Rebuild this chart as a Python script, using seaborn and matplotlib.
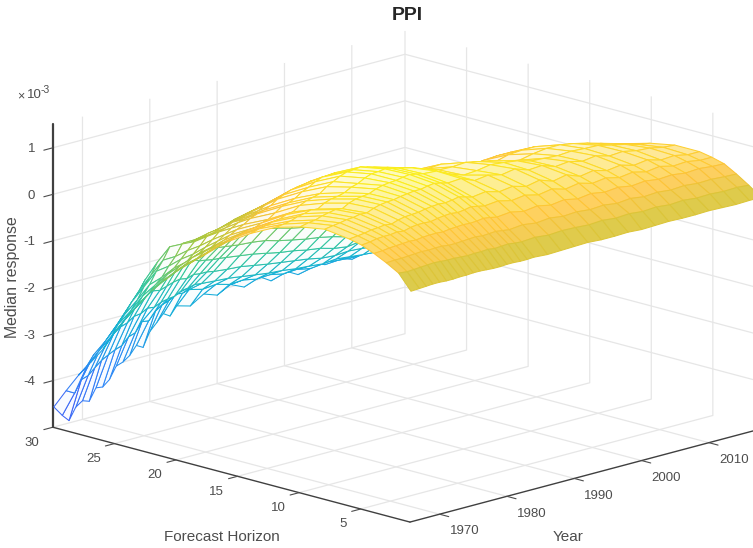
import matplotlib
matplotlib.use("Agg")
import matplotlib.pyplot as plt
import numpy as np
import seaborn as sns

years = [1965.75, 1967, 1968, 1969, 1970, 1971, 1972, 1973, 1974, 1975, 1976, 1977, 1978, 1979, 1980, 1981, 1982, 1983, 1984,
         1986, 1988, 1990, 1992, 1994, 1996, 1998, 2000, 2002, 2004, 2006, 2008, 2010, 2012, 2014, 2016, 2017.75]
horizons = [1, 2, 3, 4, 5, 6, 8, 10, 12, 14, 16, 18, 19, 20, 21, 22, 23, 24, 25, 26, 27, 28, 29, 30]

# median response in units of 1e-3, one row per forecast horizon
h01 = [-.05, -.04, -.03, -.02, -.02, -.03, -.03, -.02, -.02, -.01, -.01, -.02, -.03, -.03, -.02, -.02, -.03, -.03, -.02,
       -.04, -.03, -.02, -.01, -.03, -.03, -.02, -.04, -.03, -.02, -.03, -.03, -.02, -.03, -.04, -.03, -.03]
h02 = [.27, .25, .26, .27, .28, .29, .28, .27, .27, .26, .25, .26, .26, .27, .25, .26, .27, .25, .24,
       .26, .23, .25, .24, .22, .24, .21, .23, .20, .22, .19, .21, .18, .19, .17, .18, .16]
h03 = [.42, .43, .43, .44, .45, .46, .45, .46, .46, .44, .44, .45, .46, .47, .45, .46, .47, .45, .43,
       .46, .42, .45, .41, .43, .40, .42, .38, .41, .37, .39, .36, .38, .35, .36, .34, .33]
h04 = [.55, .56, .58, .59, .60, .61, .60, .62, .63, .63, .62, .64, .65, .66, .65, .66, .68, .66, .63,
       .66, .60, .64, .58, .62, .56, .60, .55, .58, .53, .56, .52, .54, .50, .52, .49, .48]
h05 = [.66, .68, .71, .72, .72, .74, .72, .76, .78, .78, .77, .80, .82, .83, .81, .83, .86, .83, .80,
       .83, .76, .80, .73, .78, .70, .75, .67, .71, .64, .68, .61, .65, .58, .60, .55, .55]
h06 = [.72, .74, .76, .79, .80, .82, .80, .85, .88, .89, .90, .93, .95, .96, .95, .97, 1.0, .96, .92,
       .96, .88, .92, .84, .90, .80, .86, .75, .80, .72, .76, .68, .72, .64, .66, .60, .60]
h08 = [.79, .82, .84, .87, .88, .91, .90, .96, 1.0, 1.02, 1.03, 1.06, 1.08, 1.10, 1.10, 1.13, 1.15, 1.12, 1.08,
       1.10, .98, 1.02, .95, 1.0, .90, .92, .82, .85, .78, .82, .74, .76, .70, .68, .62, .60]
h10 = [.70, .74, .76, .81, .84, .87, .85, .93, .98, 1.0, 1.02, 1.08, 1.12, 1.14, 1.15, 1.18, 1.20, 1.17, 1.14,
       1.12, .98, .88, .90, .95, .92, .88, .80, .78, .76, .78, .76, .75, .68, .62, .54, .50]
h12 = [.55, .57, .60, .65, .68, .72, .70, .79, .84, .86, .90, .98, 1.02, 1.10, 1.15, 1.16, 1.18, 1.15, 1.12,
       1.05, .95, .85, .84, .86, .80, .74, .62, .60, .66, .70, .70, .65, .58, .50, .42, .35]
h14 = [.28, .33, .36, .40, .42, .48, .50, .60, .66, .70, .74, .85, .92, 1.0, 1.05, 1.06, 1.08, 1.04, 1.0,
       .92, .82, .72, .66, .68, .60, .54, .44, .42, .50, .52, .52, .42, .38, .30, .24, .20]
h16 = [-.05, 0, .04, .08, .10, .16, .20, .30, .40, .44, .50, .60, .66, .74, .80, .80, .82, .78, .74,
       .66, .56, .46, .42, .42, .36, .30, .20, .18, .24, .26, .26, .16, .10, .04, 0, -.05]
h18 = [-.50, -.42, -.35, -.28, -.20, -.12, -.05, .04, .10, .14, .20, .30, .36, .42, .45, .47, .50, .46, .42,
       .32, .22, .14, .10, .08, .02, -.04, -.12, -.18, -.12, -.10, -.12, -.20, -.28, -.34, -.40, -.45]
h19 = [-.72, -.65, -.55, -.50, -.40, -.30, -.20, -.12, -.08, -.03, .02, .10, .16, .20, .24, .25, .28, .24, .20,
       .12, .03, -.05, -.10, -.13, -.18, -.25, -.33, -.38, -.34, -.32, -.35, -.42, -.50, -.57, -.62, -.67]
h20 = [-.95, -.86, -.75, -.70, -.60, -.48, -.35, -.30, -.22, -.20, -.15, -.10, -.05, -.02, 0, .02, .05, .02, 0,
       -.08, -.16, -.24, -.30, -.34, -.38, -.46, -.54, -.58, -.56, -.55, -.58, -.64, -.72, -.80, -.85, -.90]
h21 = [-1.22, -1.12, -1.0, -.95, -.82, -.68, -.52, -.48, -.42, -.40, -.36, -.30, -.25, -.22, -.20, -.20, -.18, -.20, -.24,
       -.30, -.38, -.46, -.52, -.56, -.60, -.68, -.77, -.82, -.78, -.80, -.83, -.88, -.97, -1.05, -1.1, -1.15]
h22 = [-1.5, -1.38, -1.25, -1.15, -1.0, -.85, -.70, -.66, -.60, -.58, -.55, -.50, -.45, -.42, -.40, -.40, -.42, -.44, -.46,
       -.52, -.60, -.68, -.74, -.78, -.84, -.90, -1.0, -1.05, -1.02, -1.05, -1.08, -1.14, -1.22, -1.30, -1.35, -1.40]
h23 = [-1.85, -1.7, -1.55, -1.42, -1.22, -1.05, -.82, -.85, -.80, -.78, -.78, -.72, -.70, -.68, -.68, -.70, -.72, -.74, -.76,
       -.80, -.88, -.95, -1.02, -1.06, -1.12, -1.18, -1.28, -1.32, -1.30, -1.32, -1.36, -1.42, -1.5, -1.57, -1.62, -1.65]
h24 = [-2.2, -2.05, -1.85, -1.65, -1.4, -1.2, -.95, -1.05, -.95, -1.02, -1.0, -.95, -.98, -.95, -1.0, -1.02, -1.05, -1.06, -1.08,
       -1.10, -1.16, -1.24, -1.30, -1.36, -1.40, -1.46, -1.55, -1.60, -1.58, -1.60, -1.64, -1.70, -1.78, -1.84, -1.88, -1.90]
h25 = [-2.6, -2.42, -2.25, -2.05, -1.8, -1.6, -1.35, -1.42, -1.32, -1.38, -1.35, -1.3, -1.32, -1.28, -1.35, -1.38, -1.4, -1.42, -1.44,
       -1.46, -1.5, -1.58, -1.64, -1.7, -1.74, -1.8, -1.88, -1.92, -1.9, -1.92, -1.96, -2.0, -2.06, -2.1, -2.14, -2.15]
h26 = [-3.05, -2.82, -2.6, -2.42, -2.2, -2.02, -1.8, -1.82, -1.72, -1.78, -1.75, -1.68, -1.66, -1.62, -1.7, -1.72, -1.75, -1.76, -1.78,
       -1.82, -1.86, -1.92, -1.98, -2.02, -2.08, -2.12, -2.20, -2.24, -2.20, -2.22, -2.26, -2.30, -2.34, -2.38, -2.40, -2.40]
h27 = [-3.4, -3.2, -3.02, -2.85, -2.68, -2.5, -2.38, -2.32, -2.28, -2.22, -2.25, -2.2, -2.15, -2.12, -2.15, -2.1, -2.12, -2.12, -2.15,
       -2.18, -2.2, -2.25, -2.3, -2.34, -2.38, -2.42, -2.48, -2.5, -2.48, -2.5, -2.53, -2.56, -2.58, -2.6, -2.62, -2.62]
h28 = [-3.75, -3.6, -3.4, -3.3, -3.2, -3.05, -2.95, -2.9, -2.8, -2.78, -2.7, -2.72, -2.65, -2.62, -2.6, -2.52, -2.5, -2.46, -2.48,
       -2.5, -2.52, -2.56, -2.6, -2.64, -2.66, -2.7, -2.72, -2.75, -2.72, -2.75, -2.78, -2.8, -2.8, -2.8, -2.8, -2.8]
h29 = [-4.15, -4.25, -4.0, -3.95, -3.82, -3.7, -3.62, -3.55, -3.5, -3.35, -3.3, -3.1, -3.12, -2.95, -2.85, -2.8, -2.7, -2.72, -2.68,
       -2.75, -2.72, -2.8, -2.78, -2.84, -2.82, -2.88, -2.86, -2.92, -2.86, -2.9, -2.92, -2.9, -2.92, -2.92, -2.9, -2.9]
h30 = [-4.57, -4.8, -4.95, -4.7, -4.6, -4.65, -4.4, -4.42, -4.3, -4.05, -4.0, -3.9, -3.72, -3.8, -3.5, -3.35, -3.19, -3.28, -3.1,
       -3.18, -3.0, -3.1, -2.95, -3.08, -2.92, -3.1, -2.96, -3.12, -2.94, -3.06, -3.0, -3.1, -2.96, -3.02, -3.0, -3.0]

# how much of the line colour fills each row of cells (the original mesh is far denser)
row_fill = [.9, .85, .8, .72, .62, .5, .42, .3, .22, .15, .1, .03, .03, .03, .03, .03, .03, .03, .03, .03, .03, .03, .03]

parula = [(.2422, .1504, .6603), (.2810, .3228, .9579), (.1786, .5289, .9682), (.0689, .6948, .8394),
          (.2161, .7843, .5923), (.6720, .7793, .2227), (.9970, .7659, .2199), (.9769, .9839, .0805)]

year_ticks = [1970, 1980, 1990, 2000, 2010]
horizon_ticks = [5, 10, 15, 20, 25, 30]
response_ticks = [-4, -3, -2, -1, 0, 1]

sns.set_theme(style="white")
plt.rcParams["font.family"] = ["Liberation Sans", "DejaVu Sans"]

Z = np.array([h01, h02, h03, h04, h05, h06, h08, h10, h12, h14, h16, h18, h19, h20, h21, h22, h23, h24, h25, h26, h27, h28, h29, h30])
X, Y = np.meshgrid(years, horizons)

cmap = sns.blend_palette(parula, n_colors=256, as_cmap=True)
norm = plt.Normalize(-5.6, 1.4)
line_colors = cmap(norm(Z))

fig = plt.figure(figsize=(7.53, 5.48), dpi=100)
ax = fig.add_subplot(projection="3d", proj_type="ortho")
ax.set_position([20.8 / 753, -115.2 / 548, 1.0, 753 / 548])
ax.set_box_aspect((498, 505, 314))
ax.view_init(elev=15.4, azim=-135)

surf = ax.plot_surface(X, Y, Z, facecolors=line_colors, rstride=1, cstride=1, shade=False, linewidth=0.75)
faces = []
for r, fill in enumerate(row_fill):
    for c in range(len(years) - 1):
        faces.append(fill * line_colors[r, c] + (1 - fill) * np.ones(4))
surf.set_facecolor(np.array(faces))

ax.set_xlim(1965.6, 2017.9)
ax.set_ylim(1, 30)
ax.set_zlim(-5, 1.5)
ax.set_xticks(year_ticks)
ax.set_yticks(horizon_ticks)
ax.set_zticks(response_ticks)
ax.set_xticklabels([str(t) for t in year_ticks], ha="left")
ax.set_yticklabels([str(t) for t in horizon_ticks], ha="right", va="center")
ax.set_zticklabels([str(t) for t in response_ticks], ha="right", va="center_baseline")

for axis in [ax.xaxis, ax.yaxis, ax.zaxis]:
    axis.set_pane_color((1, 1, 1, 0))
    axis.line.set_color("#404040")
    axis.line.set_linewidth(1.0)
    axis._axinfo["grid"].update(color="#e6e6e6", linewidth=0.9)
    axis._axinfo["tick"].update(inward_factor=0.32, outward_factor=0.0, linewidth={True: 0.8, False: 0.5})
ax.zaxis.line.set_linewidth(1.6)
ax.tick_params(axis="x", labelsize=9.5, colors="#4d4d4d", pad=0)
ax.tick_params(axis="y", labelsize=9.5, colors="#4d4d4d", pad=3)
ax.tick_params(axis="z", labelsize=9.5, colors="#4d4d4d", pad=-1)

fig.text(407 / 753, 1 - 15 / 548, "PPI", ha="center", va="center", fontsize=14, fontweight="bold", color="#262626")
fig.text(13 / 753, 1 - 277 / 548, "Median response", rotation=90, ha="center", va="center", fontsize=11.4, color="#4d4d4d")
fig.text(222 / 753, 1 - 537 / 548, "Forecast Horizon", ha="center", va="center", fontsize=11, color="#4d4d4d")
fig.text(568 / 753, 1 - 537 / 548, "Year", ha="center", va="center", fontsize=11, color="#4d4d4d")
fig.text(17 / 753, 1 - 96 / 548, "×", ha="left", va="center", fontsize=9, color="#4d4d4d")
fig.text(27 / 753, 1 - 95 / 548, "10", ha="left", va="center", fontsize=9.5, color="#4d4d4d")
fig.text(41 / 753, 1 - 90 / 548, "-3", ha="left", va="center", fontsize=7.5, color="#4d4d4d")

fig.savefig("out.png", dpi=100)
